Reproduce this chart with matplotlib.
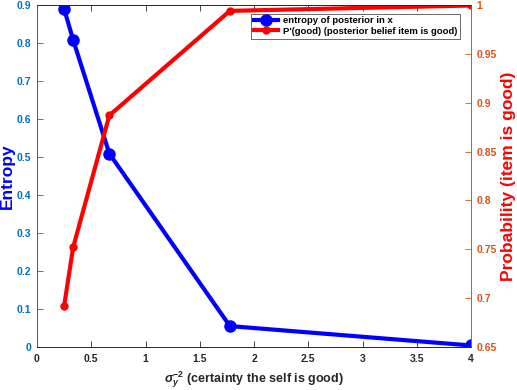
import matplotlib
matplotlib.use("Agg")
import matplotlib.pyplot as plt

x = [0.25, 0.3333, 0.6667, 1.7778, 4.0]
entropy = [0.890, 0.808, 0.509, 0.055, 0.004]
p_good = [0.692, 0.752, 0.887, 0.994, 0.9995]

left_color = (0.0, 0.447, 0.741)
right_color = (0.85, 0.325, 0.098)
gray = (0.15, 0.15, 0.15)

plt.rcParams['font.family'] = ['Liberation Sans', 'DejaVu Sans']
plt.rcParams['font.weight'] = 'bold'
plt.rcParams['mathtext.fontset'] = 'custom'
plt.rcParams['mathtext.it'] = 'Liberation Sans:bold:italic'
plt.rcParams['mathtext.rm'] = 'Liberation Sans:bold'

fig = plt.figure(figsize=(5.17, 3.9), dpi=100)
W = 471 - 37
ax = fig.add_axes([37/517, 1-347/390, W/517, (347-5)/390])
ax2 = ax.twinx()

l1, = ax.plot(x, entropy, '-o', color='#0000ff', lw=3, ms=8, label='entropy of posterior in x')
l2, = ax2.plot(x, p_good, '-o', color='#ff0000', lw=3, ms=5, label="P'(good) (posterior belief item is good)")

ax.set_xlim(0, 4)
ax.set_ylim(0, 0.9)
ax2.set_ylim(0.65, 1.0)
ax.set_xticks([0, 0.5, 1, 1.5, 2, 2.5, 3, 3.5, 4])
ax.set_xticklabels(['0', '0.5', '1', '1.5', '2', '2.5', '3', '3.5', '4'])
ax.set_yticks([0, 0.1, 0.2, 0.3, 0.4, 0.5, 0.6, 0.7, 0.8, 0.9])
ax.set_yticklabels(['0', '0.1', '0.2', '0.3', '0.4', '0.5', '0.6', '0.7', '0.8', '0.9'])
ax2.set_yticks([0.65, 0.7, 0.75, 0.8, 0.85, 0.9, 0.95, 1.0])
ax2.set_yticklabels(['0.65', '0.7', '0.75', '0.8', '0.85', '0.9', '0.95', '1'])

ax.tick_params(axis='x', direction='in', colors=gray, labelsize=7.5, length=4, top=True, width=0.6, pad=5)
ax.tick_params(axis='y', direction='in', colors=left_color, labelsize=7.5, length=4, width=0.6, pad=4)
ax2.tick_params(axis='y', direction='in', colors=right_color, labelsize=7.5, length=4, width=0.6, pad=4)

for a in (ax, ax2):
    a.spines['top'].set_color(gray)
    a.spines['bottom'].set_color(gray)
    for s in a.spines.values():
        s.set_linewidth(0.6)
    a.spines['left'].set_color(left_color)
    a.spines['right'].set_color(right_color)

ax.set_ylabel('Entropy', color='#0000ff', fontsize=12.5, fontweight='bold')
ax.yaxis.set_label_coords((15 - 37) / W, 0.5)
ax2.set_ylabel('Probability (item is good)', color='#ff0000', fontsize=12.5, fontweight='bold')
ax2.yaxis.set_label_coords((501 - 37) / W, 0.5)
ax.set_xlabel(r'$\sigma_y^{-2}$ (certainty the self is good)', color=gray, fontsize=9, fontweight='bold', labelpad=4)

leg = ax2.legend(handles=[l1, l2], loc='upper right', bbox_to_anchor=(0.975, 0.975), fontsize=6.8,
                 frameon=True, fancybox=False, edgecolor=gray, borderpad=0.3,
                 handlelength=2.6, handletextpad=0.5, labelspacing=0.15, borderaxespad=0)
leg.get_frame().set_linewidth(0.6)
leg.set_zorder(10)

ax2.set_zorder(2)
ax.set_zorder(1)
ax2.patch.set_visible(False)

fig.savefig('out.png', dpi=100)
